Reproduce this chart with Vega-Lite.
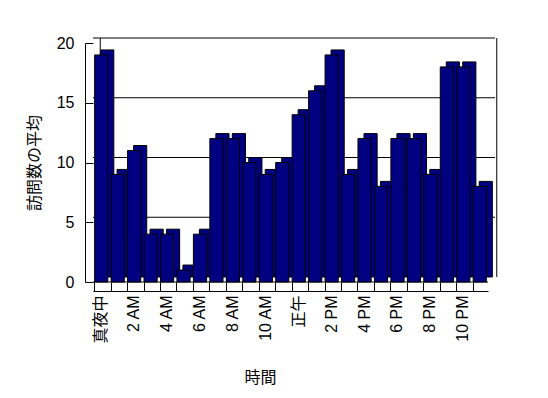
{
  "$schema": "https://vega.github.io/schema/vega-lite/v6.json",
  "width": 395,
  "height": 239,
  "autosize": {"type": "none"},
  "padding": {"left": 93, "top": 43, "right": 60, "bottom": 116},
  "background": "white",
  "config": {
    "view": {"stroke": null},
    "font": "Liberation Sans, Noto Sans CJK JP",
    "axis": {
      "labelColor": "black",
      "titleColor": "black",
      "tickColor": "black",
      "domainColor": "black",
      "labelFontSize": 16,
      "titleFontSize": 16,
      "titleFontWeight": "normal",
      "grid": false
    }
  },
  "datasets": {
    "visits": [
      {"時間": "真夜中", "平均": 19},
      {"時間": "1 AM", "平均": 9},
      {"時間": "2 AM", "平均": 11},
      {"時間": "3 AM", "平均": 4},
      {"時間": "4 AM", "平均": 4},
      {"時間": "5 AM", "平均": 1},
      {"時間": "6 AM", "平均": 4},
      {"時間": "7 AM", "平均": 12},
      {"時間": "8 AM", "平均": 12},
      {"時間": "9 AM", "平均": 10},
      {"時間": "10 AM", "平均": 9},
      {"時間": "11 AM", "平均": 10},
      {"時間": "正午", "平均": 14},
      {"時間": "1 PM", "平均": 16},
      {"時間": "2 PM", "平均": 19},
      {"時間": "3 PM", "平均": 9},
      {"時間": "4 PM", "平均": 12},
      {"時間": "5 PM", "平均": 8},
      {"時間": "6 PM", "平均": 12},
      {"時間": "7 PM", "平均": 12},
      {"時間": "8 PM", "平均": 9},
      {"時間": "9 PM", "平均": 18},
      {"時間": "10 PM", "平均": 18},
      {"時間": "11 PM", "平均": 8}
    ],
    "grid": [{"平均": 5}, {"平均": 10}, {"平均": 15}, {"平均": 20}],
    "floor": [{"平均": 0}],
    "edges": [
      {"時間": "真夜中", "平均": 20, "下端": 0, "side": "left"},
      {"時間": "11 PM", "平均": 20, "下端": 0, "side": "right"}
    ]
  },
  "layer": [
    {
      "data": {"name": "edges"},
      "transform": [{"filter": "datum.side === 'right'"}],
      "mark": {"type": "rule", "color": "black", "strokeWidth": 1, "xOffset": 17, "yOffset": -5, "y2Offset": -5},
      "encoding": {
        "x": {
          "field": "時間",
          "type": "nominal",
          "sort": null,
          "scale": {
            "domain": ["真夜中", "1 AM", "2 AM", "3 AM", "4 AM", "5 AM", "6 AM", "7 AM", "8 AM", "9 AM", "10 AM", "11 AM", "正午", "1 PM", "2 PM", "3 PM", "4 PM", "5 PM", "6 PM", "7 PM", "8 PM", "9 PM", "10 PM", "11 PM"],
            "paddingInner": 0.2,
            "paddingOuter": 0.1
          },
          "axis": {
            "title": "時間",
            "offset": 9,
            "tickSize": -9,
            "bandPosition": 0,
            "labelAngle": -90,
            "labelFontSize": 16,
            "labelPadding": 13,
            "titlePadding": 26,
            "titleX": 167,
            "labelExpr": "indexof(['真夜中','2 AM','4 AM','6 AM','8 AM','10 AM','正午','2 PM','4 PM','6 PM','8 PM','10 PM'], datum.value) >= 0 ? datum.label : ''"
          }
        },
        "y": {
          "field": "平均",
          "type": "quantitative",
          "title": "訪問数の平均",
          "scale": {"domain": [0, 20], "nice": false, "zero": true},
          "axis": {
            "title": "訪問数の平均",
            "values": [0, 5, 10, 15, 20],
            "offset": 8,
            "tickSize": -8,
            "labelPadding": 19,
            "titlePadding": 14
          }
        },
        "y2": {"field": "下端"}
      }
    },
    {
      "data": {"name": "edges"},
      "transform": [{"filter": "datum.side === 'left'"}],
      "mark": {"type": "rule", "color": "black", "strokeWidth": 1, "xOffset": -1, "yOffset": -5, "y2Offset": -5},
      "encoding": {
        "x": {"field": "時間", "type": "nominal", "sort": null},
        "y": {"field": "平均", "type": "quantitative", "title": "訪問数の平均"},
        "y2": {"field": "下端"}
      }
    },
    {
      "data": {"name": "grid"},
      "mark": {"type": "rule", "color": "black", "strokeWidth": 1, "xOffset": 7, "x2Offset": 10, "yOffset": -5},
      "encoding": {
        "y": {"field": "平均", "type": "quantitative", "title": "訪問数の平均"}
      }
    },
    {
      "data": {"name": "floor"},
      "mark": {"type": "rule", "color": "black", "strokeWidth": 1},
      "encoding": {
        "y": {"field": "平均", "type": "quantitative", "title": "訪問数の平均"}
      }
    },
    {
      "data": {"name": "visits"},
      "mark": {"type": "bar", "fill": "#000080", "stroke": "black", "strokeWidth": 1, "xOffset": 6, "x2Offset": 6, "yOffset": -5, "y2Offset": -5},
      "encoding": {
        "x": {"field": "時間", "type": "nominal", "sort": null},
        "y": {"field": "平均", "type": "quantitative", "title": "訪問数の平均"}
      }
    },
    {
      "data": {"name": "visits"},
      "mark": {"type": "bar", "fill": "#000080", "stroke": "black", "strokeWidth": 1},
      "encoding": {
        "x": {"field": "時間", "type": "nominal", "sort": null},
        "y": {"field": "平均", "type": "quantitative", "title": "訪問数の平均"}
      }
    }
  ]
}
